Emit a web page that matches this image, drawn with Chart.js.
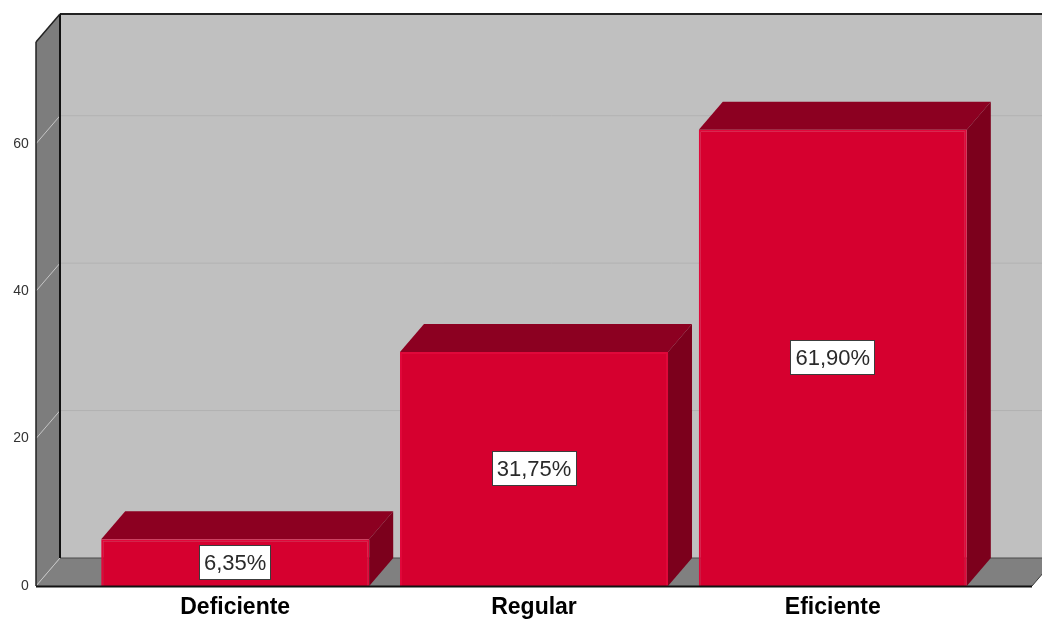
<!DOCTYPE html>
<html>
<head>
<meta charset="utf-8">
<title>Evaluación</title>
<script src="https://cdn.jsdelivr.net/npm/chart.js@4.4.1/dist/chart.umd.min.js"></script>
<style>
  html, body { margin: 0; padding: 0; background: #ffffff; }
  #wrap { width: 1042px; height: 620px; position: relative; }
</style>
</head>
<body>
<div id="wrap"><canvas id="chart" width="1042" height="620"></canvas></div>
<script>
// Categories and their percentages
const categories = ['Deficiente', 'Regular', 'Eficiente'];
const percentages = [6.35, 31.75, 61.90];
const yTicks = [0, 20, 40, 60];
const yMax = 73.8;

// depth of the 3D box, in pixels
const DX = 24, DY = 28;

const fmtPct = v => v.toFixed(2).replace('.', ',') + '%';

function poly(ctx, pts, fill) {
  ctx.beginPath();
  ctx.moveTo(pts[0][0], pts[0][1]);
  for (let i = 1; i < pts.length; i++) ctx.lineTo(pts[i][0], pts[i][1]);
  ctx.closePath();
  ctx.fillStyle = fill;
  ctx.fill();
}
function line(ctx, x1, y1, x2, y2, color, w) {
  ctx.beginPath();
  ctx.moveTo(x1, y1);
  ctx.lineTo(x2, y2);
  ctx.strokeStyle = color;
  ctx.lineWidth = w;
  ctx.stroke();
}

// Walls, floor, gridlines and the top/side faces of each bar
const box3d = {
  id: 'box3d',
  beforeDatasetsDraw(chart) {
    const ctx = chart.ctx, ca = chart.chartArea;
    const ys = chart.scales.y;
    const cat = (ca.right - ca.left) / categories.length;
    const fl = ca.left - cat / 6, fr = ca.right + cat / 6;
    const y0 = ys.getPixelForValue(0), yT = ys.getPixelForValue(yMax);
    ctx.save();
    // back wall
    poly(ctx, [[fl + DX, yT - DY], [fr + DX, yT - DY], [fr + DX, y0 - DY], [fl + DX, y0 - DY]], '#c0c0c0');
    // left wall
    poly(ctx, [[fl, yT], [fl + DX, yT - DY], [fl + DX, y0 - DY], [fl, y0]], '#7d7d7d');
    // floor
    poly(ctx, [[fl, y0], [fl + DX, y0 - DY], [fr + DX, y0 - DY], [fr, y0]], '#808080');
    // gridlines on the back wall and the left wall
    yTicks.forEach(v => {
      const y = ys.getPixelForValue(v);
      if (v > 0) line(ctx, fl + DX, y - DY, fr + DX, y - DY, '#b2b2b2', 1);
      line(ctx, fl, y, fl + DX, y - DY, '#c6c6c6', 1);
    });
    // frame edges
    line(ctx, fl + DX, y0 - DY, fr + DX, y0 - DY, '#4a4a4a', 1);
    line(ctx, fr, y0, fr + DX, y0 - DY, '#3a3a3a', 1);
    line(ctx, fl + DX, yT - DY, fr + DX, yT - DY, '#222222', 2);
    line(ctx, fl + DX, yT - DY, fl + DX, y0 - DY, '#111111', 2);
    line(ctx, fl, yT, fl + DX, yT - DY, '#222222', 1.5);
    line(ctx, fl, yT, fl, y0, '#222222', 1.5);

    // bar tops and sides
    chart.getDatasetMeta(0).data.forEach(bar => {
      const l = bar.x - bar.width / 2, r = bar.x + bar.width / 2;
      const t = bar.y, b = bar.base;
      poly(ctx, [[l, t], [l + DX, t - DY], [r + DX, t - DY], [r, t]], '#8c0021');
      poly(ctx, [[r, t], [r + DX, t - DY], [r + DX, b - DY], [r, b]], '#7c001c');
    });
    ctx.restore();
  },
  afterDatasetsDraw(chart) {
    const ctx = chart.ctx;
    const ca = chart.chartArea;
    ctx.save();
    // front floor edge over the bar bottoms
    const cat = (ca.right - ca.left) / categories.length;
    line(ctx, ca.left - cat / 6, ca.bottom + 0.5, ca.right + cat / 6, ca.bottom + 0.5, '#111111', 2);
    // value boxes
    ctx.font = '22px "Liberation Sans", Arial, sans-serif';
    ctx.textAlign = 'center';
    ctx.textBaseline = 'middle';
    chart.getDatasetMeta(0).data.forEach((bar, i) => {
      const txt = fmtPct(percentages[i]);
      const cx = bar.x, cy = (bar.y + bar.base) / 2;
      const w = ctx.measureText(txt).width + 10, h = 35;
      ctx.fillStyle = '#ffffff';
      ctx.fillRect(Math.round(cx - w / 2), Math.round(cy - h / 2), Math.round(w), h);
      ctx.strokeStyle = '#3c3c3c';
      ctx.lineWidth = 1;
      ctx.strokeRect(Math.round(cx - w / 2) + 0.5, Math.round(cy - h / 2) + 0.5, Math.round(w) - 1, h - 1);
      ctx.fillStyle = '#2a2a2a';
      ctx.fillText(txt, cx, cy + 1);
    });
    ctx.restore();
  }
};

new Chart(document.getElementById('chart'), {
  type: 'bar',
  data: {
    labels: categories,
    datasets: [{
      data: percentages,
      backgroundColor: '#d6002f',
      borderColor: '#e0083a',
      borderWidth: 2,
      categoryPercentage: 1,
      barPercentage: 0.897
    }]
  },
  options: {
    responsive: false,
    animation: false,
    events: [],
    layout: { padding: { top: 42, right: 59.8, left: 0, bottom: 0 } },
    plugins: { legend: { display: false }, tooltip: { enabled: false } },
    scales: {
      x: {
        grid: { display: false, drawTicks: true, tickLength: 8 },
        border: { display: false },
        ticks: {
          padding: 0,
          color: '#000000',
          font: { family: '"Liberation Sans", Arial, sans-serif', size: 23, weight: 'bold' }
        },
        afterFit(scale) { scale.height = 34; }
      },
      y: {
        min: 0,
        max: yMax,
        grid: { display: false, drawTicks: true, tickLength: 57 },
        border: { display: false },
        ticks: {
          padding: 0,
          color: '#333333',
          font: { family: '"Liberation Sans", Arial, sans-serif', size: 14 }
        },
        afterBuildTicks(scale) { scale.ticks = yTicks.map(v => ({ value: v })); },
        afterFit(scale) { scale.width = 85.8; }
      }
    }
  },
  plugins: [box3d]
});
</script>
</body>
</html>
